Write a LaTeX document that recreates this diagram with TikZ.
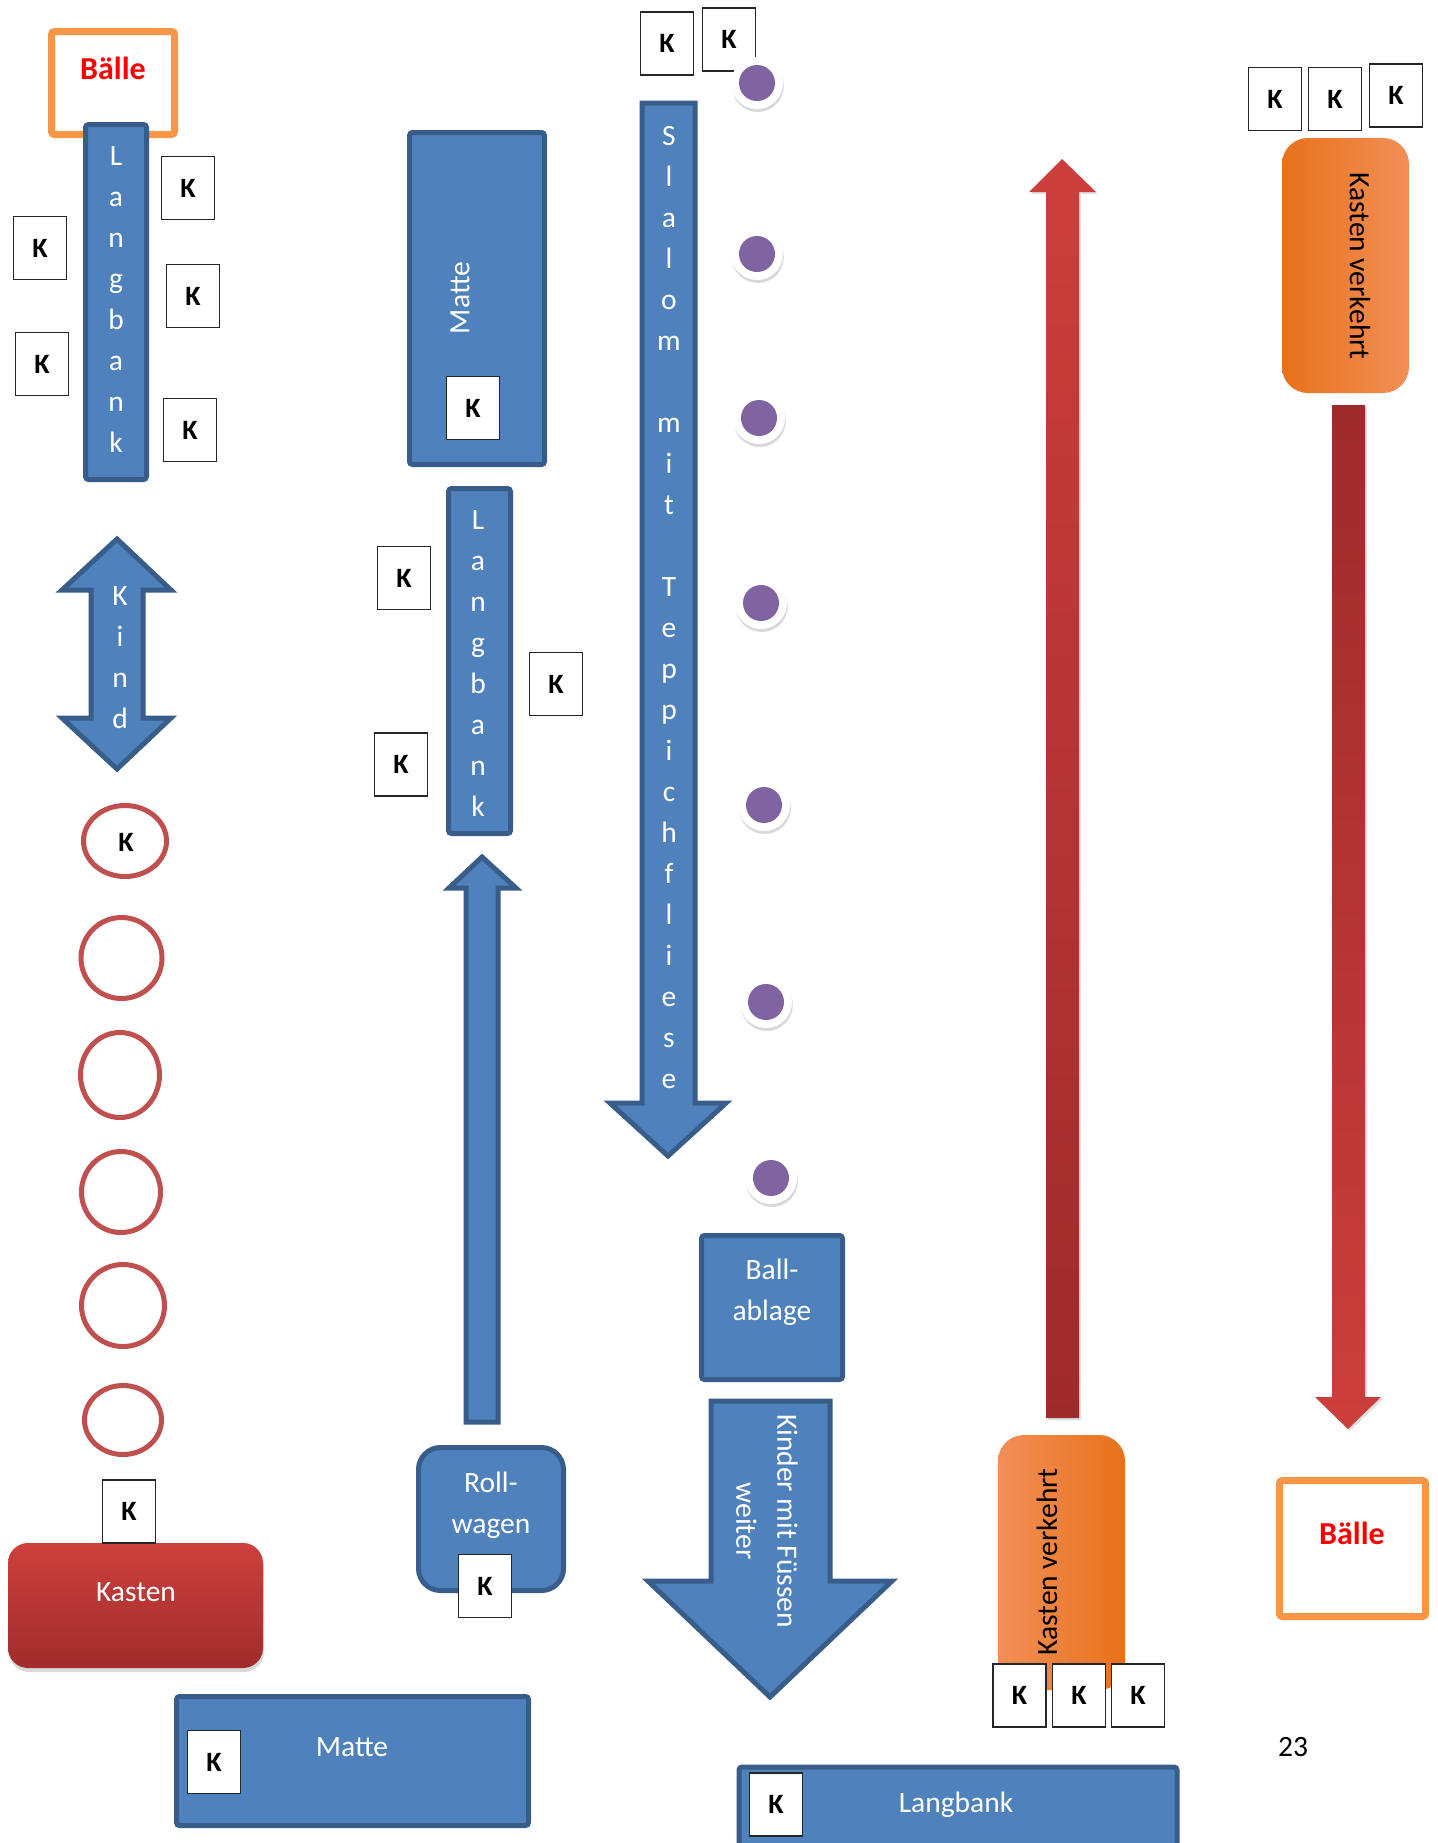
\documentclass[tikz,border=0pt]{standalone}
\usepackage{fontspec}
\setmainfont{Carlito}
\usetikzlibrary{shapes.geometric,shadows}
\definecolor{bfill}{HTML}{4F81BD}
\definecolor{bline}{HTML}{385D8A}
\definecolor{oline}{HTML}{F79646}
\definecolor{rring}{HTML}{C0504D}
\definecolor{purp}{HTML}{8064A2}
\definecolor{kred1}{HTML}{CD403D}
\definecolor{kred2}{HTML}{A02C2B}
\definecolor{or1}{HTML}{E8711A}
\definecolor{or2}{HTML}{F28F58}
\definecolor{ar1}{HTML}{CC3E3B}
\definecolor{ar2}{HTML}{9E2B2B}
\begin{document}
\begin{tikzpicture}[x=0.5pt,y=-0.5pt,
 kbox/.style={draw=black!85, line width=0.9pt, fill=white, minimum width=26.5pt, minimum height=31.5pt, inner sep=0pt, font=\fontsize{14}{16}\selectfont\bfseries},
 bluebox/.style={draw=bline, fill=bfill, line width=2.5pt, inner sep=0pt, rounded corners=1.5pt},
 wtext/.style={text=white, font=\fontsize{14.75}{20.5}\selectfont, align=center, inner sep=0pt},
 btext/.style={text=black, font=\fontsize{14.75}{20.5}\selectfont, align=center, inner sep=0pt},
 ring/.style={ellipse, draw=rring, line width=2.5pt, inner sep=0pt},
 dot/.style={circle, fill=white, minimum size=26pt, inner sep=0pt, drop shadow={opacity=0.3, shadow xshift=0.4pt, shadow yshift=-1.5pt}, path picture={\fill[purp] (path picture bounding box.center) circle (9pt);}},
 ballbox/.style={draw=oline, line width=3.5pt, fill=white, rounded corners=1.5pt, inner sep=0pt},
 balltext/.style={text=red, font=\fontsize{16}{19}\selectfont\bfseries, inner sep=0pt},
 blkarrow/.style={draw=bline, fill=bfill, line width=2.5pt, line join=miter},
 kverk/.style={rounded corners=13pt, minimum width=63.5pt, minimum height=127.5pt, inner sep=0pt}
]
\path[use as bounding box] (0,0) rectangle (1437,1843);
\clip (0,0) rectangle (1437,1843);

% ---------- left column ----------
\node[ballbox, minimum width=61.5pt, minimum height=51.5pt] (balleA) at (113,83) {};
\node[balltext] (balleAt) at (113,68) {Bälle};
\node[bluebox, minimum width=30.5pt, minimum height=177.5pt] (lb1) at (116,302) {};
\node[wtext] (lb1t) at (116,300) {L\\a\\n\\g\\b\\a\\n\\k};
\node[kbox] (k1) at (188,188) {K};
\node[kbox] (k2) at (40,248) {K};
\node[kbox] (k3) at (193,296) {K};
\node[kbox] (k4) at (42,364) {K};
\node[kbox] (k5) at (190,430) {K};

\draw[blkarrow] (117,539) -- (171,590) -- (143,590) -- (143,718) -- (171,718) -- (117,769) -- (62,718) -- (91,718) -- (91,590) -- (62,590) -- cycle;
\node[wtext] (kindt) at (120,658) {K\\i\\n\\d};

\node[ring, minimum width=41.5pt, minimum height=35.5pt] (r1) at (125,841) {};
\node[font=\fontsize{14}{16}\selectfont\bfseries, inner sep=0pt] (r1k) at (126,842) {K};
\node[ring, minimum width=40.5pt, minimum height=40.5pt] (r2) at (121.5,958) {};
\node[ring, minimum width=39.5pt, minimum height=42.5pt] (r3) at (120,1075) {};
\node[ring, minimum width=39.5pt, minimum height=40.5pt] (r4) at (121,1192) {};
\node[ring, minimum width=41.5pt, minimum height=41pt] (r5) at (123,1305.5) {};
\node[ring, minimum width=38.5pt, minimum height=34.5pt] (r6) at (123,1420) {};

\node[rounded corners=10pt, top color=kred1, bottom color=kred2, minimum width=127.5pt, minimum height=62.5pt, inner sep=0pt, drop shadow={opacity=0.3, shadow xshift=0.5pt, shadow yshift=-2pt}] (kasten) at (135.5,1605.5) {};
\node[wtext] (kastent) at (136,1592) {Kasten};
\node[kbox] (k6) at (129,1511.5) {K};

% ---------- second column ----------
\node[bluebox, minimum width=67.5pt, minimum height=166pt] (matteA) at (477,298.5) {};
\node[wtext, rotate=90] (matteAt) at (460,298) {Matte};
\node[kbox] (k7) at (473,408) {K};

\node[bluebox, minimum width=31pt, minimum height=172.5pt] (lb2) at (479.5,661) {};
\node[wtext] (lb2t) at (478,664) {L\\a\\n\\g\\b\\a\\n\\k};
\node[kbox] (k8) at (404,578) {K};
\node[kbox] (k9) at (556,684) {K};
\node[kbox] (k10) at (401,764.5) {K};

\draw[blkarrow] (482,857) -- (516,888) -- (498,888) -- (498,1422) -- (466,1422) -- (466,888) -- (449,888) -- cycle;

\node[bluebox, rounded corners=11pt, minimum width=72.5pt, minimum height=71.5pt] (roll) at (491,1519) {};
\node[wtext] (rollt) at (491,1505) {Roll-\\wagen};
\node[kbox] (k11) at (485,1586) {K};

\node[bluebox, minimum width=176pt, minimum height=64.5pt] (matteB) at (352.5,1761) {};
\node[wtext] (matteBt) at (352,1747) {Matte};
\node[kbox] (k12) at (214,1762) {K};

% ---------- slalom column ----------
\draw[blkarrow] (642,103) -- (695,103) -- (695,1103) -- (726,1103) -- (668,1156) -- (610,1103) -- (642,1103) -- cycle;
\node[wtext] (slalt) at (669,608) {S\\l\\a\\l\\o\\m\\~\\m\\i\\t\\~\\T\\e\\p\\p\\i\\c\\h\\f\\l\\i\\e\\s\\e};
\node[kbox] (k13) at (667,43.5) {K};
\node[kbox] (k14) at (729,39.5) {K};

\node[dot] (d1) at (757,83) {};
\node[dot] (d2) at (757,254) {};
\node[dot] (d3) at (759,418) {};
\node[dot] (d4) at (761,603) {};
\node[dot] (d5) at (764,805) {};
\node[dot] (d6) at (766,1002) {};
\node[dot] (d7) at (771,1178) {};

\node[bluebox, minimum width=70.5pt, minimum height=72pt] (ball) at (772,1307.5) {};
\node[wtext] (ballt) at (772,1292) {Ball-\\ablage};

\draw[blkarrow] (711,1401) -- (830,1401) -- (830,1581) -- (892,1581) -- (770,1697) -- (648,1581) -- (711,1581) -- cycle;
\node[wtext, rotate=-90] (kmf) at (767,1521) {Kinder mit Füssen\\weiter};

\node[bluebox, anchor=north west, minimum width=219pt, minimum height=60pt] (lb3) at (736.5,1764.5) {};
\node[wtext] (lb3t) at (956,1805) {Langbank};
\node[kbox] (k15) at (776,1804.5) {K};

% ---------- red arrows & right column ----------
\path[top color=ar1, bottom color=ar2, drop shadow={opacity=0.25, shadow xshift=1pt, shadow yshift=-1pt}] (1062,159) -- (1096,192) -- (1079,192) -- (1079,1418) -- (1046,1418) -- (1046,192) -- (1029,192) -- cycle;
\path[top color=ar2, bottom color=ar1, drop shadow={opacity=0.25, shadow xshift=1pt, shadow yshift=-1pt}] (1332,405) -- (1365,405) -- (1365,1397) -- (1381,1397) -- (1348,1429) -- (1315,1397) -- (1332,1397) -- cycle;

\node[kverk, left color=or1, right color=or2] (kvA) at (1345.5,265.5) {};
\node[btext, rotate=-90] (kvAt) at (1360,266) {Kasten verkehrt};
\node[kbox] (k16) at (1275,99) {K};
\node[kbox] (k17) at (1335,99) {K};
\node[kbox] (k18) at (1396,95.5) {K};

\node[kverk, left color=or2, right color=or1] (kvB) at (1061.5,1562.5) {};
\node[btext, rotate=90] (kvBt) at (1047,1562) {Kasten verkehrt};
\node[kbox] (k19) at (1019.5,1695.5) {K};
\node[kbox] (k20) at (1079,1695.5) {K};
\node[kbox] (k21) at (1138,1695.5) {K};

\node[ballbox, minimum width=73pt, minimum height=68pt] (balleB) at (1352.5,1548.5) {};
\node[balltext] (balleBt) at (1352,1533) {Bälle};

\node[font=\fontsize{14.75}{17}\selectfont, inner sep=0pt] (pg) at (1293,1747) {23};
\end{tikzpicture}
\end{document}
